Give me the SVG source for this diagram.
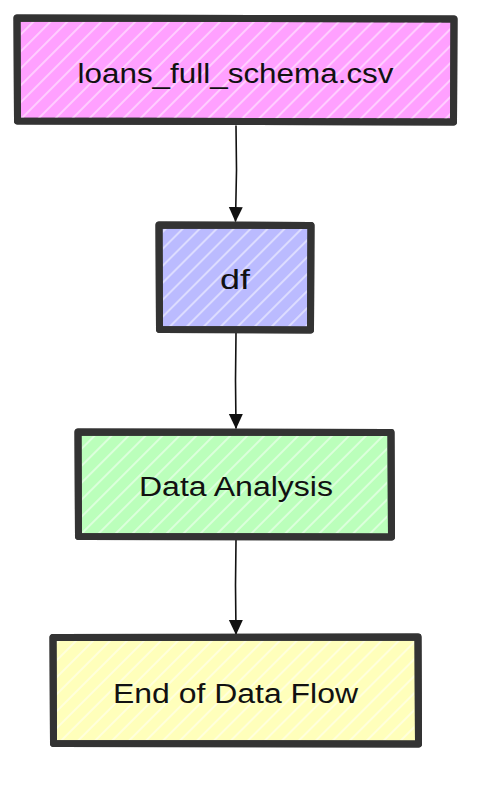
<svg xmlns="http://www.w3.org/2000/svg" width="488" height="788" viewBox="0 0 488 788">
<style>
.box{stroke:#333333;stroke-width:7;stroke-linejoin:round;stroke-linecap:round}
.lbl{font-family:"Liberation Sans",Arial,sans-serif;font-size:27px;fill:#111111;text-anchor:middle}
.edge{stroke:#111111;stroke-width:1.6;fill:none;stroke-linecap:round}
</style>
<defs>
<pattern id="h" width="12" height="12" patternUnits="userSpaceOnUse" patternTransform="rotate(45)">
<line x1="3" y1="0" x2="3" y2="12" stroke="#ffffff" stroke-opacity="0.8" stroke-width="1.2"/>
</pattern>
<marker id="arr" markerWidth="16" markerHeight="16" refX="14" refY="7" orient="auto" markerUnits="userSpaceOnUse">
<path d="M0,0 L15,7 L0,14 Z" fill="#111111"/>
</marker>
</defs>
<rect width="488" height="788" fill="#ffffff"/>
<g id="edges">
<path class="edge" d="M236,126 L236.5,170 L235.5,221" marker-end="url(#arr)"/>
<path class="edge" d="M236,333 L235.5,380 L236,428" marker-end="url(#arr)"/>
<path class="edge" d="M236,540 L235.5,585 L236,634" marker-end="url(#arr)"/>
</g>
<g id="n1">
<path class="box" fill="#ffa0ff" d="M17,18 L454,19 L453.5,122 L17.5,121 Z"/>
<path fill="url(#h)" d="M21,22 L450,22 L450,119 L21,119 Z"/>
<path class="box" fill="none" d="M17,18 L454,19 L453.5,122 L17.5,121 Z"/>
<text class="lbl" x="235.5" y="83" textLength="316" lengthAdjust="spacingAndGlyphs">loans_full_schema.csv</text>
</g>
<g id="n2">
<path class="box" fill="#bbbbff" d="M159,225 L311,225.5 L310.5,330 L159.5,329.5 Z"/>
<path fill="url(#h)" d="M163,229 L307,229 L307,326 L163,326 Z"/>
<path class="box" fill="none" d="M159,225 L311,225.5 L310.5,330 L159.5,329.5 Z"/>
<text class="lbl" x="235" y="289" textLength="30" lengthAdjust="spacingAndGlyphs">df</text>
</g>
<g id="n3">
<path class="box" fill="#bbffbb" d="M78,432 L391,432.5 L391.5,537 L78.5,536.5 Z"/>
<path fill="url(#h)" d="M82,436 L387,436 L387,533 L82,533 Z"/>
<path class="box" fill="none" d="M78,432 L391,432.5 L391.5,537 L78.5,536.5 Z"/>
<text class="lbl" x="236" y="496" textLength="194" lengthAdjust="spacingAndGlyphs">Data Analysis</text>
</g>
<g id="n4">
<path class="box" fill="#ffffbb" d="M53,637.5 L418,637 L418.5,744 L53.5,743.5 Z"/>
<path fill="url(#h)" d="M57,641 L414,641 L414,740 L57,740 Z"/>
<path class="box" fill="none" d="M53,637.5 L418,637 L418.5,744 L53.5,743.5 Z"/>
<text class="lbl" x="235.5" y="703" textLength="245" lengthAdjust="spacingAndGlyphs">End of Data Flow</text>
</g>
</svg>
